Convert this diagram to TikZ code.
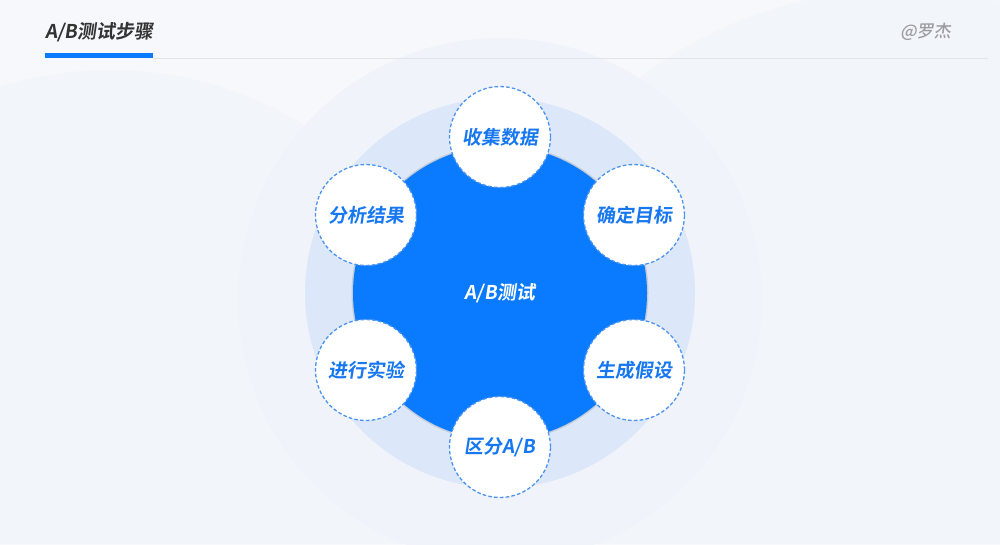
\documentclass[tikz,border=0pt]{standalone}
\usepackage{fontspec}
\setmainfont{Noto Sans CJK SC}
\newfontfamily\cjkb[FakeSlant=0.15]{Noto Sans CJK SC Bold}
\newfontfamily\cjkm[FakeSlant=0.15]{Noto Sans CJK SC Medium}
\definecolor{bgc}{HTML}{F6F8FB}
\definecolor{bgd}{HTML}{F0F4FA}
\definecolor{ringc}{HTML}{DCE8F9}
\definecolor{coreblue}{HTML}{0A7BFF}
\definecolor{dashblue}{HTML}{4A93F2}
\definecolor{txtblue}{HTML}{1777F0}
\definecolor{titlegray}{HTML}{333333}
\definecolor{authgray}{HTML}{9A9CA0}
\definecolor{linegray}{HTML}{E1E4E9}
\begin{document}
\begin{tikzpicture}[x=1pt,y=-1pt,
  stepcircle/.style={circle,fill=white,draw=dashblue,dash pattern=on 3.6pt off 2.2pt,line width=1.3pt,
    minimum size=101pt,inner sep=0pt,font=\cjkb\fontsize{19}{19}\selectfont,text=txtblue},
  ]
\useasboundingbox (0,0) rectangle (1000,544);
\fill[bgc] (0,0) rectangle (1000,544);
\begin{scope}
\clip (0,0) rectangle (1000,544);
\fill[bgd,opacity=0.6] (110,440) circle (370);
\fill[bgd,opacity=0.6] (900,420) circle (430);
\fill[bgd] (500,300) circle (262);
\end{scope}
% header
\node[anchor=west,font=\cjkb\fontsize{19}{19}\selectfont,text=titlegray,inner sep=0pt] (title) at (45,32) {A/B测试步骤};
\node[anchor=east,font=\cjkm\fontsize{17}{17}\selectfont,text=authgray,inner sep=0pt] (author) at (951,32) {@罗杰};
\draw[linegray,line width=1pt] (153,58) -- (988,58);
\fill[coreblue] (45,53) rectangle (153,58);
% rings
\fill[ringc] (500,293) circle (195);
\fill[black!40,opacity=0.35] (500,293) circle (148.5);
\fill[coreblue] (500,293) circle (147);
\node[font=\cjkb\fontsize{19}{19}\selectfont,text=white] (center) at (500,293) {A/B测试};
% step circles
\node[stepcircle] (s1) at (500,137) {收集数据};
\node[stepcircle] (s2) at (634,215) {确定目标};
\node[stepcircle] (s3) at (634,370) {生成假设};
\node[stepcircle] (s4) at (500,447) {区分A/B};
\node[stepcircle] (s5) at (366,370) {进行实验};
\node[stepcircle] (s6) at (366,215) {分析结果};
\end{tikzpicture}
\end{document}
